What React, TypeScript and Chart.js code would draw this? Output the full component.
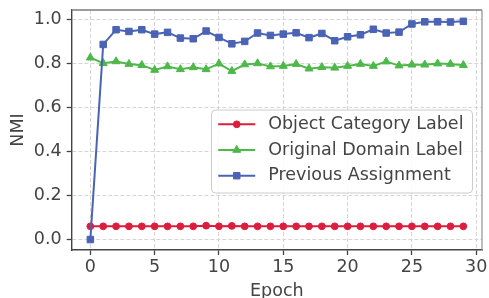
import React, { useEffect, useRef } from 'react';
import { Chart, registerables } from 'chart.js';

Chart.register(...registerables);

const epochs = [0, 1, 2, 3, 4, 5, 6, 7, 8, 9, 10, 11, 12, 13, 14, 15, 16, 17, 18, 19, 20, 21, 22, 23, 24, 25, 26, 27, 28, 29];
const objectCategoryLabel = [0.06, 0.06, 0.06, 0.06, 0.06, 0.06, 0.06, 0.06, 0.06, 0.063, 0.06, 0.062, 0.06, 0.06, 0.06, 0.06, 0.06, 0.06, 0.06, 0.06, 0.06, 0.06, 0.06, 0.06, 0.06, 0.06, 0.06, 0.06, 0.06, 0.06];
const originalDomainLabel = [0.826, 0.801, 0.809, 0.797, 0.792, 0.770, 0.786, 0.773, 0.782, 0.773, 0.799, 0.765, 0.795, 0.800, 0.786, 0.788, 0.797, 0.776, 0.783, 0.780, 0.788, 0.797, 0.788, 0.808, 0.790, 0.794, 0.794, 0.799, 0.797, 0.792];
const previousAssignment = [0.0, 0.886, 0.953, 0.945, 0.953, 0.933, 0.941, 0.915, 0.912, 0.947, 0.918, 0.889, 0.900, 0.938, 0.927, 0.933, 0.939, 0.917, 0.936, 0.903, 0.921, 0.930, 0.955, 0.938, 0.942, 0.979, 0.989, 0.989, 0.988, 0.991];
const seriesNames = ['Object Category Label', 'Original Domain Label', 'Previous Assignment'];
const seriesColors = ['#dc1e3e', '#4eb84a', '#4a63b4'];
const xTicks = [0, 5, 10, 15, 20, 25, 30];
const yTicks = [0.0, 0.2, 0.4, 0.6, 0.8, 1.0];
const xTitle = 'Epoch';
const yTitle = 'NMI';

const FONT = '"DejaVu Sans", sans-serif';
const FS = 17.5;
const TEXT_COLOR = '#444444';
const GRID_COLOR = '#d6d6d6';

function drawMarker(ctx: CanvasRenderingContext2D, style: string, x: number, y: number, r: number) {
  ctx.beginPath();
  if (style === 'circle') {
    ctx.arc(x, y, r, 0, Math.PI * 2);
  } else if (style === 'rect') {
    const s = r * Math.SQRT1_2;
    ctx.rect(x - s, y - s, 2 * s, 2 * s);
  } else if (style === 'triangle') {
    let rad = 0;
    ctx.moveTo(x + Math.sin(rad) * r, y - Math.cos(rad) * r);
    rad += (2 * Math.PI) / 3;
    ctx.lineTo(x + Math.sin(rad) * r, y - Math.cos(rad) * r);
    rad += (2 * Math.PI) / 3;
    ctx.lineTo(x + Math.sin(rad) * r, y - Math.cos(rad) * r);
    ctx.closePath();
  }
  ctx.fill();
  ctx.stroke();
}

const framePlugin = {
  id: 'frame',
  beforeDatasetsDraw(chart: any) {
    const { ctx, chartArea } = chart;
    ctx.save();
    ctx.strokeStyle = '#7a7a7a';
    ctx.lineWidth = 1.3;
    ctx.beginPath();
    ctx.moveTo(chartArea.left, chartArea.top);
    ctx.lineTo(chartArea.right, chartArea.top);
    ctx.stroke();
    ctx.strokeStyle = '#999999';
    ctx.beginPath();
    ctx.moveTo(chartArea.right, chartArea.top);
    ctx.lineTo(chartArea.right, chartArea.bottom);
    ctx.stroke();
    ctx.restore();
  },
};

const legendPlugin = {
  id: 'innerLegend',
  afterDatasetsDraw(chart: any) {
    const { ctx, chartArea } = chart;
    const datasets = [...chart.data.datasets].sort((a: any, b: any) => a.legendIndex - b.legendIndex);
    ctx.save();
    ctx.font = `${FS}px ${FONT}`;
    const textW = Math.max(...datasets.map((d: any) => ctx.measureText(d.label).width));
    const padL = 6.7, lineLen = 37, gap = 13, padR = 9, rowH = 25.7, padT = 14.3;
    const w = padL + lineLen + gap + textW + padR;
    const h = 83;
    const right = chartArea.right - 9.5;
    const left = right - w;
    const top = chartArea.top + 100;
    ctx.beginPath();
    ctx.roundRect(left, top, w, h, 4);
    ctx.fillStyle = 'rgba(255,255,255,0.85)';
    ctx.fill();
    ctx.strokeStyle = '#cccccc';
    ctx.lineWidth = 1;
    ctx.stroke();
    datasets.forEach((d: any, i: number) => {
      const y = top + padT + i * rowH;
      const x0 = left + padL;
      ctx.strokeStyle = d.borderColor;
      ctx.lineWidth = d.borderWidth;
      ctx.beginPath();
      ctx.moveTo(x0, y);
      ctx.lineTo(x0 + lineLen, y);
      ctx.stroke();
      ctx.fillStyle = d.pointBackgroundColor;
      ctx.strokeStyle = d.pointBorderColor;
      ctx.lineWidth = d.pointBorderWidth;
      drawMarker(ctx, d.pointStyle, x0 + lineLen / 2, y, d.pointRadius);
      ctx.fillStyle = TEXT_COLOR;
      ctx.textBaseline = 'middle';
      ctx.textAlign = 'left';
      ctx.fillText(d.label, x0 + lineLen + gap, y);
    });
    ctx.restore();
  },
};

export default function App() {
  const ref = useRef<HTMLCanvasElement | null>(null);

  useEffect(() => {
    if (!ref.current) return;
    const styles = ['circle', 'triangle', 'rect'];
    const radii = [3.4, 4.6, 4.6];
    const values = [objectCategoryLabel, originalDomainLabel, previousAssignment];
    const datasets = values.map((vals, i) => ({
      label: seriesNames[i],
      legendIndex: i,
      data: epochs.map((e, j) => ({ x: e, y: vals[j] })),
      borderColor: seriesColors[i],
      backgroundColor: seriesColors[i],
      pointBackgroundColor: seriesColors[i],
      pointBorderColor: seriesColors[i],
      pointBorderWidth: 1,
      borderWidth: 2,
      pointStyle: styles[i],
      pointRadius: radii[i],
      pointHoverRadius: radii[i],
      order: values.length - 1 - i,
      clip: false as any,
    }));

    const chart = new Chart(ref.current, {
      type: 'line',
      data: { datasets },
      plugins: [framePlugin, legendPlugin],
      options: {
        responsive: false,
        animation: false,
        devicePixelRatio: 1,
        layout: { padding: { top: 10, right: 7, left: 0, bottom: 0 } },
        plugins: { legend: { display: false }, tooltip: { enabled: false } },
        scales: {
          x: {
            type: 'linear',
            min: -1.45,
            max: 30.45,
            afterBuildTicks: (s: any) => { s.ticks = xTicks.map((v) => ({ value: v })); },
            afterFit: (s: any) => { s.height = 48; s.paddingLeft = 0; s.paddingRight = 0; },
            ticks: {
              font: { family: FONT, size: FS },
              color: TEXT_COLOR,
              padding: 2,
              maxRotation: 0,
              callback: (v: any) => String(v),
            },
            grid: {
              color: GRID_COLOR,
              lineWidth: 1,
              tickColor: TEXT_COLOR,
              tickLength: 5,
              tickWidth: 1.3,
              tickBorderDash: [],
            },
            border: { display: true, color: TEXT_COLOR, width: 1.4, dash: [4, 2] },
            title: {
              display: true,
              text: xTitle,
              font: { family: FONT, size: FS, lineHeight: 1 },
              color: TEXT_COLOR,
              padding: { top: 0, bottom: -2 },
            },
          },
          y: {
            type: 'linear',
            min: -0.0475,
            max: 1.0425,
            afterBuildTicks: (s: any) => { s.ticks = yTicks.map((v) => ({ value: v })); },
            afterFit: (s: any) => { s.width = 71.7; s.paddingTop = 0; s.paddingBottom = 0; },
            ticks: {
              font: { family: FONT, size: FS },
              color: TEXT_COLOR,
              padding: 5,
              callback: (v: any) => Number(v).toFixed(1),
            },
            grid: {
              color: GRID_COLOR,
              lineWidth: 1,
              tickColor: TEXT_COLOR,
              tickLength: 5,
              tickWidth: 1.3,
              tickBorderDash: [],
            },
            border: { display: true, color: TEXT_COLOR, width: 1.4, dash: [4, 2] },
            title: {
              display: true,
              text: yTitle,
              font: { family: FONT, size: FS, lineHeight: 1 },
              color: TEXT_COLOR,
              padding: { top: 10, bottom: 0 },
            },
          },
        },
      },
    });
    return () => chart.destroy();
  }, []);

  return (
    <div style={{ position: 'fixed', left: 0, top: 0, width: 489, height: 298, background: '#ffffff' }}>
      <canvas ref={ref} width={489} height={298} style={{ display: 'block' }} />
    </div>
  );
}
